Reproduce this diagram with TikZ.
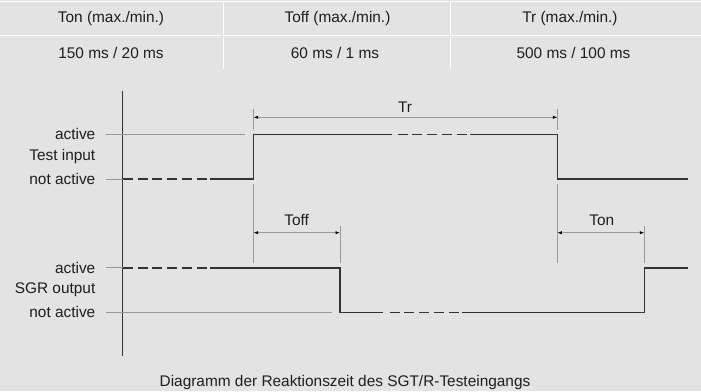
\documentclass[tikz,border=0pt]{standalone}
\usepackage{fontspec}
\setmainfont{Liberation Sans}
\usetikzlibrary{arrows.meta}
\definecolor{bg}{HTML}{E3E3E3}
\definecolor{sig}{HTML}{333333}
\definecolor{thin}{HTML}{9A9A9A}
\definecolor{txt}{HTML}{1E1E1E}
\tikzset{
  sigline/.style={draw=sig, line width=1.6pt},
  sigdash/.style={draw=sig, line width=1.6pt, dash pattern=on 10pt off 4.8pt},
  guide/.style={draw=thin, line width=0.7pt},
  dim/.style={draw=thin, line width=0.7pt, {Latex[length=4.5pt,width=3.2pt,color=black]}-{Latex[length=4.5pt,width=3.2pt,color=black]}},
  tbl/.style={draw=white, line width=1pt},
  lbl/.style={font=\fontsize{15.4}{18}\selectfont, text=txt, inner sep=0pt},
  lbr/.style={lbl, anchor=east},
}
\begin{document}
\begin{tikzpicture}[x=1pt,y=-1pt]
\fill[bg] (0,0) rectangle (701,391);
\useasboundingbox (0,0) rectangle (701,391);
% table
\draw[tbl] (0,1.7) -- (701,1.7);
\draw[tbl] (0,35) -- (701,35);
\draw[tbl] (223.3,2) -- (223.3,69);
\draw[tbl] (450.7,2) -- (450.7,69);
\node[lbl] (h1) at (111,18.3) {Ton (max./min.)};
\node[lbl] (h2) at (337.5,18.3) {Toff (max./min.)};
\node[lbl] (h3) at (570,18.3) {Tr (max./min.)};
\node[lbl] (v1) at (111,53) {150 ms / 20 ms};
\node[lbl] (v2) at (335,53) {60 ms / 1 ms};
\node[lbl] (v3) at (573.5,53) {500 ms / 100 ms};
% axis
\coordinate (axt) at (122.7,91);
\coordinate (axb) at (122.7,356);
\draw[draw=sig, line width=1.3pt] (axt) -- (axb);
% labels
\node[lbr] (ta) at (95.5,134.3) {active};
\node[lbr] (ti) at (95.5,156.5) {Test input};
\node[lbr] (tn) at (95.5,179) {not active};
\node[lbr] (sa) at (95.5,267.7) {active};
\node[lbr] (so) at (95.5,289.5) {SGR output};
\node[lbr] (sn) at (95.5,312.3) {not active};
% guide lines
\draw[guide] (105.7,134.3) -- (245,134.3);
\draw[guide] (105.7,179) -- (122.7,179);
\draw[guide] (105.7,267.7) -- (122.7,267.7);
\draw[guide] (105.7,312.3) -- (331.7,312.3);
% test input signal
\draw[sigdash] (122.7,179) -- (210,179);
\draw[sigline] (210,179) -- (253.5,179) -- (253.5,134.3) -- (391.7,134.3);
\draw[sigdash] (397.5,134.3) -- (470,134.3);
\draw[sigline] (470,134.3) -- (557.3,134.3) -- (557.3,179) -- (687.7,179);
% SGR output signal
\draw[sigdash] (122.7,267.7) -- (210,267.7);
\draw[sigline] (210,267.7) -- (340,267.7) -- (340,312.3) -- (383.3,312.3);
\draw[sigdash] (389.5,312.3) -- (461.7,312.3);
\draw[sigline] (461.7,312.3) -- (644.3,312.3) -- (644.3,267.7) -- (687.7,267.7);
% ticks
\draw[guide] (253.5,108.5) -- (253.5,130);
\draw[guide] (557.3,108.5) -- (557.3,130);
\draw[guide] (253.5,184) -- (253.5,263);
\draw[guide] (557.3,184) -- (557.3,263);
\draw[guide] (340,225.7) -- (340,263);
\draw[guide] (644.3,225.7) -- (644.3,263);
% dimensions
\coordinate (tr1) at (253.5,117.3);
\coordinate (tr2) at (557.3,117.3);
\coordinate (to1) at (253.5,232.7);
\coordinate (to2) at (340,232.7);
\coordinate (tn1) at (557.3,232.7);
\coordinate (tn2) at (644.3,232.7);
\draw[dim] (tr1) -- (tr2);
\draw[dim] (to1) -- (to2);
\draw[dim] (tn1) -- (tn2);
\node[lbl] (trl) at (405,106.7) {Tr};
\node[lbl] (tofl) at (296.7,220) {Toff};
\node[lbl] (tonl) at (601.7,220) {Ton};
% caption
\node[lbl] (cap) at (345,383) {Diagramm der Reaktionszeit des SGT/R-Testeingangs};
\end{tikzpicture}
\end{document}
